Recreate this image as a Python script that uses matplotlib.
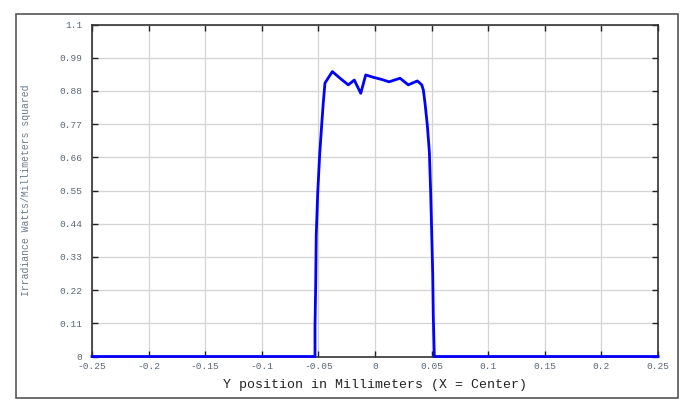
import matplotlib
matplotlib.use("Agg")
import matplotlib.pyplot as plt
from matplotlib.patches import Rectangle

# Irradiance profile (mm, W/mm^2)
y_pos = [-0.25, -0.0530, -0.0530, -0.0524, -0.0519, -0.0506, -0.0489, -0.0471,
         -0.0457, -0.0442, -0.0377, -0.0309, -0.0236, -0.0183, -0.0126, -0.0082,
         -0.0015, 0.0059, 0.0124, 0.0221, 0.0294, 0.0374, 0.0413, 0.0427,
         0.0442, 0.0462, 0.0480, 0.0492, 0.0501, 0.0510, 0.0515, 0.0524, 0.25]
irradiance = [0.0, 0.0, 0.101, 0.237, 0.403, 0.542, 0.668, 0.767,
              0.840, 0.906, 0.944, 0.922, 0.900, 0.916, 0.872, 0.933,
              0.925, 0.918, 0.910, 0.922, 0.900, 0.913, 0.900, 0.883,
              0.839, 0.767, 0.679, 0.541, 0.409, 0.270, 0.132, 0.0, 0.0]

x_ticks = [-0.25, -0.2, -0.15, -0.1, -0.05, 0, 0.05, 0.1, 0.15, 0.2, 0.25]
x_labels = ['-0.25', '-0.2', '-0.15', '-0.1', '-0.05', '0', '0.05', '0.1', '0.15', '0.2', '0.25']
y_ticks = [0, 0.11, 0.22, 0.33, 0.44, 0.55, 0.66, 0.77, 0.88, 0.99, 1.1]
y_labels = ['0', '0.11', '0.22', '0.33', '0.44', '0.55', '0.66', '0.77', '0.88', '0.99', '1.1']

fig = plt.figure(figsize=(6.95, 4.17), dpi=100)
ax = fig.add_axes([92 / 695, 1 - 356.5 / 417, 566 / 695, 332 / 417])

ax.plot(y_pos, irradiance, color='#0000ff', lw=2.0, zorder=3, clip_on=False)

ax.set_xlim(-0.25, 0.25)
ax.set_ylim(0, 1.1)
ax.set_xticks(x_ticks)
ax.set_xticklabels(x_labels)
ax.set_yticks(y_ticks)
ax.set_yticklabels(y_labels)
ax.grid(True, color='#d4d4d4', lw=0.9)
ax.set_axisbelow(True)

for lab in ax.get_xticklabels() + ax.get_yticklabels():
    lab.set_fontfamily('Liberation Mono')
    lab.set_fontsize(6.8)
    lab.set_color('#5a6878')
ax.tick_params(direction='in', length=4.5, width=1.0, color='#222222',
               top=True, right=True)
ax.tick_params(axis='y', pad=7)
ax.tick_params(axis='x', pad=4)

for sp in ax.spines.values():
    sp.set_color('#333333')
    sp.set_linewidth(1.2)

ax.set_xlabel('Y position in Millimeters (X = Center)', family='Liberation Mono',
              fontsize=9.5, color='#222222')
ax.xaxis.set_label_coords(0.5, -0.068)
ax.set_ylabel('Irradiance Watts/Millimeters squared', family='Liberation Mono',
              fontsize=7, color='#6a7a8a')
ax.yaxis.set_label_coords(-0.107, 0.5)

# outer frame around the whole plot
fig.patches.append(Rectangle((15.5 / 695, 1 - 398 / 417), 662 / 695, 384 / 417,
                             transform=fig.transFigure, fill=False,
                             edgecolor='#555555', lw=1.2))

fig.savefig('out.png', dpi=100)
